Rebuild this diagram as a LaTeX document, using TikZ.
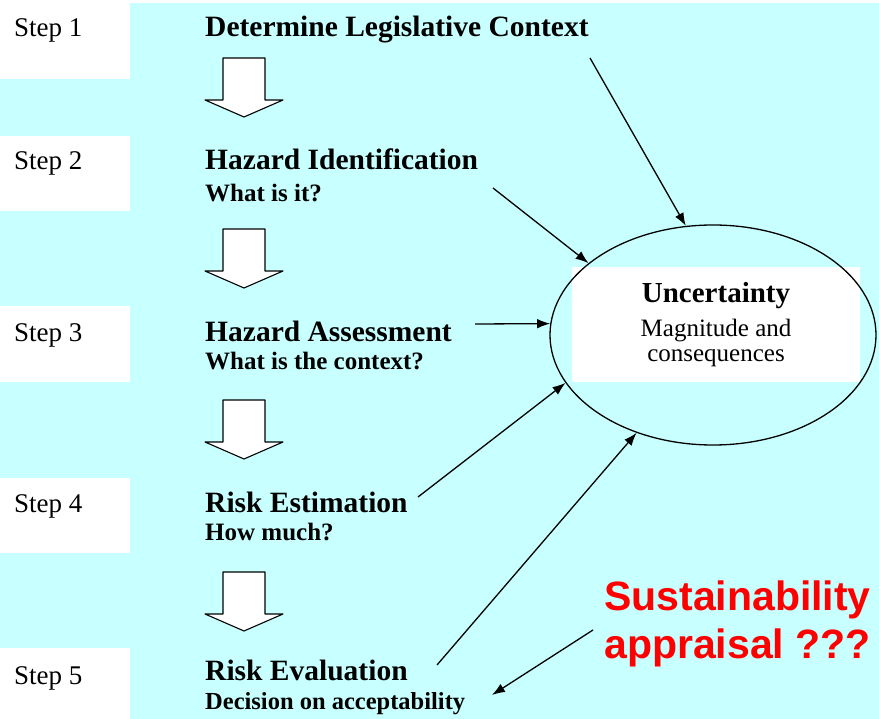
\documentclass[tikz,border=0pt]{standalone}
\usepackage{fontspec}
\setmainfont{Liberation Serif}
\newfontfamily\redsans{Liberation Sans}
\usetikzlibrary{arrows.meta,shapes.geometric}
\definecolor{bgcyan}{RGB}{200,255,255}
\definecolor{redtxt}{RGB}{255,0,0}
\begin{document}
\begin{tikzpicture}[x=1pt,y=-1pt,
  steplabel/.style={anchor=base west, inner sep=0, font=\fontsize{27}{30}\selectfont},
  head/.style={anchor=base west, inner sep=0, text depth=0pt, font=\bfseries\fontsize{29.5}{32}\selectfont},
  sub/.style={anchor=base west, inner sep=0, text height=17pt, font=\bfseries\fontsize{25}{26}\selectfont},
  link/.style={draw=black, line width=1.3pt, -{Latex[length=13pt,width=9.5pt]}},
  dnarrow/.pic={\draw[fill=white, line width=1.1pt, line join=round] (-21,0) -- (21,0) -- (21,42) -- (39,42) -- (0,59) -- (-39,42) -- (-21,42) -- cycle;}
]
\useasboundingbox (0,0) rectangle (879,719);
\fill[white] (0,0) rectangle (879,719);
\fill[bgcyan] (0,3) rectangle (879,719);
% step boxes
\fill[white] (0,0) rectangle (130,79);
\fill[white] (0,136) rectangle (130,211);
\fill[white] (0,306) rectangle (130,382);
\fill[white] (0,478) rectangle (130,553);
\fill[white] (0,648) rectangle (130,719);
% step labels
\node[steplabel] (st1) at (14,37) {Step 1};
\node[steplabel] (st2) at (14,170) {Step 2};
\node[steplabel] (st3) at (14,342) {Step 3};
\node[steplabel] (st4) at (14,512) {Step 4};
\node[steplabel] (st5) at (14,684) {Step 5};
% headings
\node[head] (h1) at (205,37) {Determine Legislative Context};
\node[head] (h2) at (205,170) {Hazard Identification};
\node[sub] (q2) at (205,202) {What is it?};
\node[head] (h3) at (205,342) {Hazard Assessment};
\node[sub] (q3) at (205,370) {What is the context?};
\node[head] (h4) at (205,512) {Risk Estimation};
\node[sub] (q4) at (205,540) {How much?};
\node[head] (h5) at (205,680) {Risk Evaluation};
\node[sub, font=\bfseries\fontsize{24.5}{26}\selectfont] (q5) at (205,709) {Decision on acceptability};
% block arrows
\pic at (244,58) {dnarrow};
\pic at (244,229) {dnarrow};
\pic at (244,400) {dnarrow};
\pic at (244,572) {dnarrow};
% uncertainty ellipse
\fill[white] (572,267) rectangle (860,382);
\node[draw, ellipse, line width=1.3pt, minimum width=326, minimum height=220, inner sep=0] (unc) at (713,335) {};
\node[anchor=base, inner sep=0, font=\bfseries\fontsize{29}{30}\selectfont] (u1) at (716,303) {Uncertainty};
\node[anchor=base, inner sep=0, text depth=0pt, font=\fontsize{25}{26}\selectfont] (u2) at (716,337) {Magnitude and};
\node[anchor=base, inner sep=0, font=\fontsize{25}{26}\selectfont] (u3) at (716,362) {consequences};
% connectors
\coordinate (a1) at (590,58);
\coordinate (a2) at (493,188);
\coordinate (a3) at (475,324);
\coordinate (a4) at (418,497);
\coordinate (a5) at (437,665);
\draw[link] (a1) -- (unc.104);
\draw[link] (a2) -- (unc.150.8);
\draw[link] (a3) -- (unc.176.5);
\draw[link] (a4) -- (unc.198.2);
\draw[link] (a5) -- (unc.232.9);
% sustainability
\node[anchor=base west, inner sep=0, text=redtxt, font=\redsans\bfseries\fontsize{41}{48}\selectfont] (sus) at (604,610) {Sustainability};
\node[anchor=base west, inner sep=0, text=redtxt, font=\redsans\bfseries\fontsize{41}{48}\selectfont] (app) at (604,658) {appraisal ???};
\coordinate (a6) at (593,630);
\coordinate (t6) at (492,695);
\draw[link] (a6) -- (t6);
\end{tikzpicture}
\end{document}
